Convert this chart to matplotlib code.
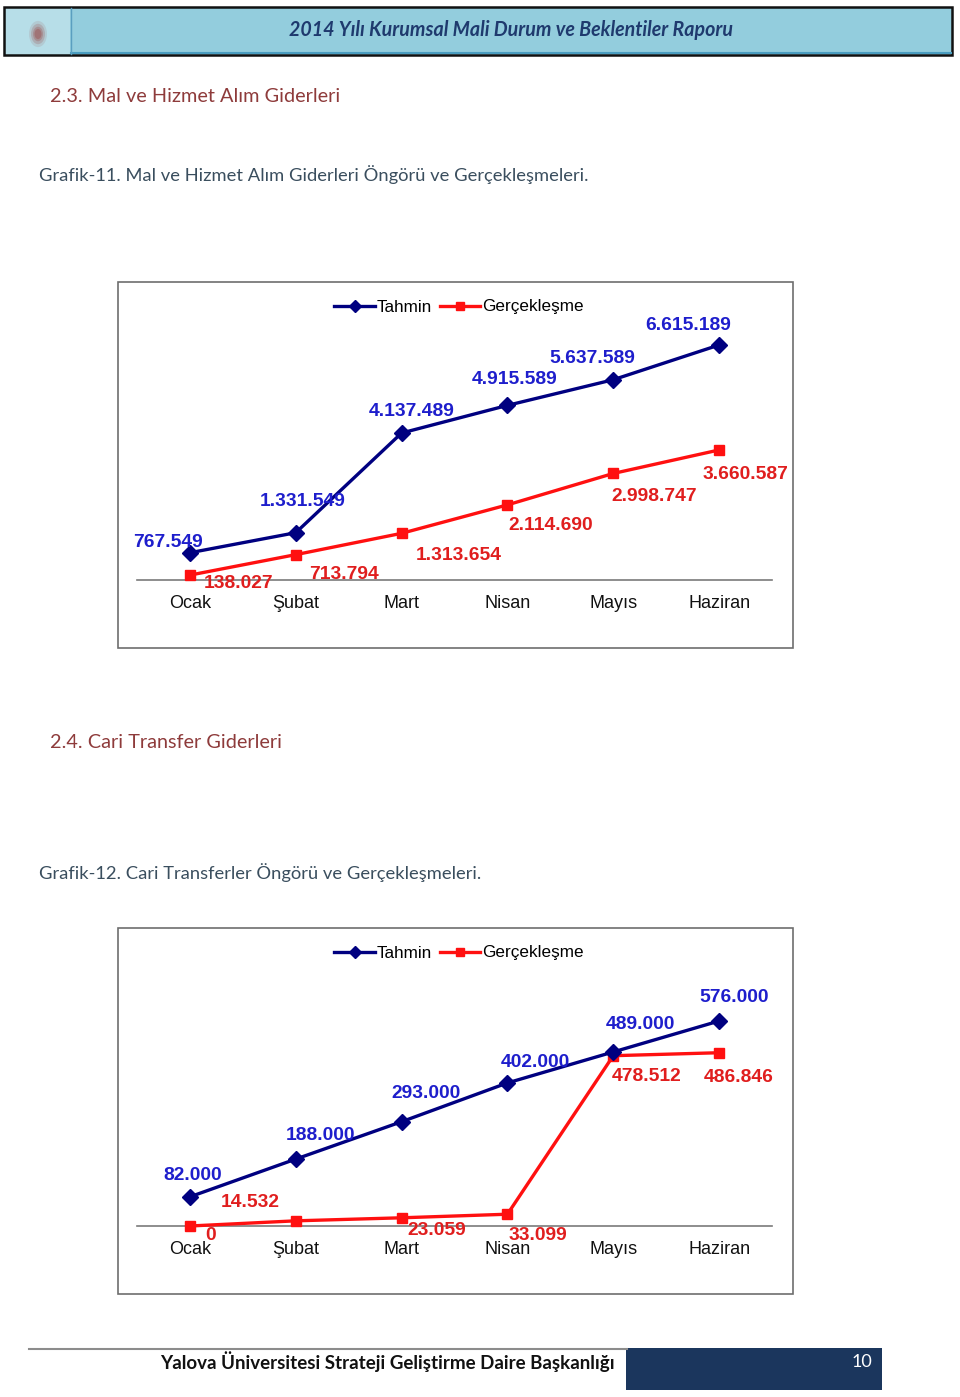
import matplotlib
matplotlib.use('Agg')
import matplotlib.pyplot as plt
from matplotlib.patches import Rectangle, Circle
from matplotlib.lines import Line2D

W, H = 960, 1397

# ---------------- data ----------------
months = ['Ocak', 'Şubat', 'Mart', 'Nisan', 'Mayıs', 'Haziran']
series_names = ['Tahmin', 'Gerçekleşme']
mal_tahmin = [767549, 1331549, 4137489, 4915589, 5637589, 6615189]
mal_gercek = [138027, 713794, 1313654, 2114690, 2998747, 3660587]
cari_tahmin = [82000, 188000, 293000, 402000, 489000, 576000]
cari_gercek = [0, 14532, 23059, 33099, 478512, 486846]

# ---------------- styles ----------------
NAVY = '#000080'
RED = '#FF1010'
LBL_BLUE = '#1E1ECC'
LBL_RED = '#E01E1E'
CHART_FONT = 'Liberation Sans'
DOC_FONT = 'Lato'

# label offsets in pixels (dx, dy up)
mal_t_off = [(-22, 13), (7, 34), (10, 25), (7, 29), (-21, 24), (-31, 23)]
mal_g_off = [(49, -5), (48, -17), (57, -19), (43, -18), (41, -20), (26, -22)]
cari_t_off = [(3, 24), (25, 27), (24, 31), (28, 23), (27, 30), (15, 26)]
cari_g_off = [(21, -6), (-45, 21), (35, -10), (30, -18), (33, -18), (20, -22)]
LBL_SHIFT = -3  # px, vertical correction for text box centring


def fx(x):
    return x / W


def fy(y):
    return 1 - y / H


def fmt(v):
    return f"{v:,}".replace(',', '.')


fig = plt.figure(figsize=(W / 100, H / 100), dpi=100)
fig.patch.set_facecolor('white')

# ---------------- header ----------------
fig.add_artist(Rectangle((fx(4), fy(55)), fx(948), 48 / H, facecolor='#93CDDD',
                         edgecolor='none', transform=fig.transFigure))
fig.add_artist(Rectangle((fx(4), fy(55)), fx(66), 48 / H, facecolor='#B7DEE8',
                         edgecolor='none', transform=fig.transFigure))
fig.add_artist(Line2D([fx(71), fx(951)], [fy(52.5), fy(52.5)], color='#4A9DC0', lw=1.5,
                      transform=fig.transFigure))
fig.add_artist(Line2D([fx(70.5), fx(70.5)], [fy(8), fy(54)], color='#5A9FC0', lw=1,
                      transform=fig.transFigure))
fig.add_artist(Rectangle((fx(4), fy(55)), fx(948), 48 / H, facecolor='none',
                         edgecolor='#111111', lw=1.8, transform=fig.transFigure))
for r, a in [(9, 0.15), (7, 0.25), (5, 0.35), (3.5, 0.5)]:
    fig.add_artist(Circle((fx(38), fy(34)), r / W, facecolor='#9C5A5A', edgecolor='none',
                          alpha=a, transform=fig.transFigure))
fig.text(fx(511), fy(30), '2014 Yılı Kurumsal Mali Durum ve Beklentiler Raporu',
         ha='center', va='center', fontsize=14.1, fontweight='bold', fontstyle='italic',
         color='#1F3A6E', family=DOC_FONT)

# ---------------- section texts ----------------
SEC_COLOR = '#8E3B3B'
CAP_COLOR = '#3A4E5E'
fig.text(fx(50), fy(96.5), '2.3. Mal ve Hizmet Alım Giderleri', ha='left', va='center',
         fontsize=14.3, color=SEC_COLOR, family=DOC_FONT)
fig.text(fx(39), fy(175), 'Grafik-11. Mal ve Hizmet Alım Giderleri Öngörü ve Gerçekleşmeleri.',
         ha='left', va='center', fontsize=13.2, color=CAP_COLOR, family=DOC_FONT)
fig.text(fx(50), fy(742.5), '2.4. Cari Transfer Giderleri', ha='left', va='center',
         fontsize=14.3, color=SEC_COLOR, family=DOC_FONT)
fig.text(fx(39), fy(873), 'Grafik-12. Cari Transferler Öngörü ve Gerçekleşmeleri.',
         ha='left', va='center', fontsize=13.2, color=CAP_COLOR, family=DOC_FONT)


# ---------------- charts ----------------
def draw_chart(box_top, baseline_y, tahmin, gercek, t_off, g_off, top_px):
    # outer box
    fig.add_artist(Rectangle((fx(117.5), fy(box_top + 366)), 675 / W, 366 / H,
                             facecolor='white', edgecolor='#6E6E6E', lw=1.2,
                             transform=fig.transFigure, zorder=0))
    ax = fig.add_axes([fx(137), fy(baseline_y), 635 / W, 280 / H])
    ax.set_facecolor('none')
    ymax = max(tahmin) * 280 / top_px
    x = list(range(len(months)))
    ax.plot(x, tahmin, color=NAVY, lw=2.4, marker='D', markersize=8.5, clip_on=False,
            zorder=4, label=series_names[0])
    ax.plot(x, gercek, color=RED, lw=2.4, marker='s', markersize=7.5, clip_on=False,
            zorder=3, label=series_names[1])
    for i, v in enumerate(tahmin):
        ax.annotate(fmt(v), (i, v),
                    xytext=(t_off[i][0] * 0.72, (t_off[i][1] + LBL_SHIFT) * 0.72),
                    textcoords='offset points', ha='center', va='center',
                    fontsize=13.9, fontweight='bold', color=LBL_BLUE, family=CHART_FONT,
                    zorder=6, annotation_clip=False)
    for i, v in enumerate(gercek):
        ax.annotate(fmt(v), (i, v),
                    xytext=(g_off[i][0] * 0.72, (g_off[i][1] + LBL_SHIFT) * 0.72),
                    textcoords='offset points', ha='center', va='center',
                    fontsize=13.9, fontweight='bold', color=LBL_RED, family=CHART_FONT,
                    zorder=6, annotation_clip=False)
    ax.set_xlim(-0.5, len(months) - 0.5)
    ax.set_ylim(0, ymax)
    for s in ['top', 'left', 'right']:
        ax.spines[s].set_visible(False)
    ax.spines['bottom'].set_color('#7A7A7A')
    ax.spines['bottom'].set_linewidth(1.2)
    ax.spines['bottom'].set_zorder(1)
    ax.set_yticks([])
    ax.set_xticks(x)
    ax.set_xticklabels(months, fontsize=13, family=CHART_FONT, color='#111111')
    ax.tick_params(axis='x', length=0, pad=11)
    # legend
    handles = [Line2D([], [], color=NAVY, lw=2.4, marker='D', markersize=6),
               Line2D([], [], color=RED, lw=2.4, marker='s', markersize=6)]
    fig.legend(handles, series_names, loc='center', ncol=2,
               bbox_to_anchor=(fx(459), fy(box_top + 25)), bbox_transform=fig.transFigure,
               frameon=False, prop={'family': CHART_FONT, 'size': 12.3},
               handlelength=2.35, handletextpad=0.1, columnspacing=0.5, borderpad=0)
    return ax


draw_chart(282, 580, mal_tahmin, mal_gercek, mal_t_off, mal_g_off, 235)
draw_chart(928, 1226, cari_tahmin, cari_gercek, cari_t_off, cari_g_off, 205)

# ---------------- footer ----------------
fig.add_artist(Line2D([fx(29), fx(627)], [fy(1349), fy(1349)], color='#8C8C8C', lw=1.5,
                      transform=fig.transFigure))
fig.add_artist(Rectangle((fx(626), fy(1390)), 256 / W, 42 / H, facecolor='#1B365D',
                         edgecolor='none', transform=fig.transFigure))
fig.text(fx(615), fy(1362), 'Yalova Üniversitesi Strateji Geliştirme Daire Başkanlığı',
         ha='right', va='center', fontsize=13.5, fontweight='bold', color='#111111',
         family=DOC_FONT)
fig.text(fx(872), fy(1362), '10', ha='right', va='center', fontsize=13, color='white',
         family=DOC_FONT)

fig.savefig('out.png', dpi=100)
